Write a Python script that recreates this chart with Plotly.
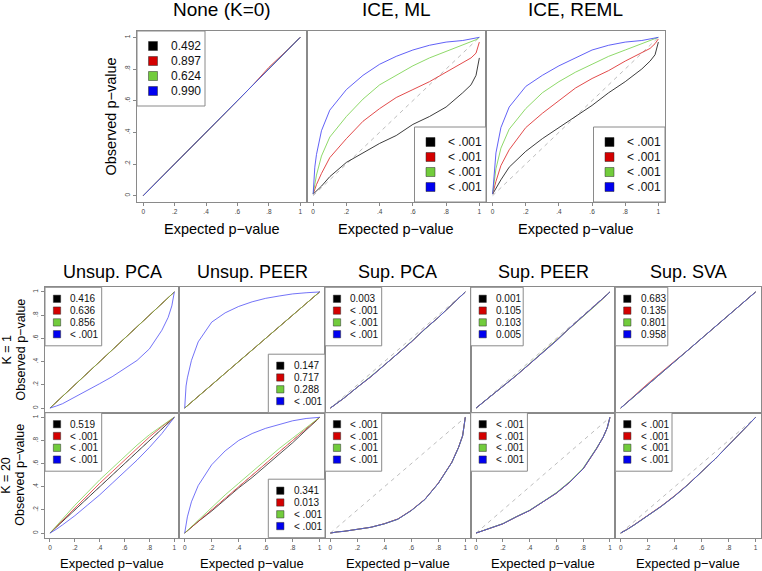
import plotly.graph_objects as go

W, H = 762, 571
FONT = "Liberation Sans, Arial, Helvetica, sans-serif"

# ---------------- data ----------------
X = [0, 0.01, 0.02, 0.05, 0.1, 0.2, 0.3, 0.4, 0.5, 0.6, 0.7, 0.8, 0.9, 0.95, 0.98, 1]
SERIES_NAMES = ["black", "red", "green", "blue"]
LINE_COLORS = ["#1a1a1a", "#dd2a2a", "#7ad24e", "#4444f4"]
FILL_COLORS = ["#000000", "#d40000", "#72cc3c", "#0000f0"]
TICK_VALS = [0, 0.2, 0.4, 0.6, 0.8, 1]
TICK_TEXT = ["0", ".2", ".4", ".6", ".8", "1"]

NONE_K0 = [
    [0, .01, .02, .05, .10, .20, .30, .40, .50, .60, .70, .80, .90, .95, .98, 1],
    [0, .01, .02, .05, .10, .20, .30, .40, .50, .60, .70, .81, .90, .95, .98, 1],
    [0, .01, .02, .05, .10, .20, .30, .40, .50, .60, .70, .80, .90, .95, .98, 1],
    [0, .01, .02, .05, .10, .20, .30, .40, .50, .60, .70, .80, .90, .95, .98, 1],
]
ICE_ML = [
    [.01, .02, .03, .06, .12, .21, .27, .33, .38, .45, .50, .56, .65, .70, .76, .87],
    [.01, .04, .07, .14, .24, .36, .47, .55, .62, .67, .72, .78, .84, .87, .90, .97],
    [.01, .08, .13, .25, .37, .50, .61, .70, .76, .82, .87, .91, .95, .97, .985, 1],
    [.01, .18, .26, .41, .54, .67, .76, .83, .88, .92, .95, .97, .98, .99, .995, 1],
]
ICE_REML = [
    [.01, .03, .05, .10, .18, .28, .36, .43, .50, .57, .65, .72, .80, .85, .89, .97],
    [.01, .05, .09, .19, .29, .43, .52, .60, .68, .74, .79, .85, .90, .93, .96, .99],
    [.01, .10, .17, .30, .42, .55, .65, .72, .78, .83, .88, .92, .96, .98, .99, 1],
    [.01, .17, .27, .43, .56, .69, .76, .82, .87, .92, .95, .97, .98, .99, .995, 1],
]
UNSUP_PCA_K1 = [
    [0, .01, .02, .05, .10, .20, .30, .40, .50, .60, .70, .80, .90, .95, .98, 1],
    [0, .01, .02, .05, .10, .20, .30, .40, .505, .60, .70, .80, .90, .95, .98, 1],
    [0, .01, .02, .05, .10, .20, .30, .40, .50, .60, .70, .80, .90, .95, .98, 1],
    [0, .003, .006, .017, .037, .094, .146, .21, .27, .34, .41, .51, .67, .78, .88, 1],
]
UNSUP_PEER_K1 = [
    [0, .01, .02, .05, .10, .20, .30, .40, .50, .60, .70, .80, .90, .95, .98, 1],
    [0, .01, .02, .05, .10, .20, .30, .395, .50, .60, .70, .80, .90, .95, .98, 1],
    [0, .01, .02, .05, .10, .20, .305, .40, .50, .60, .70, .80, .90, .95, .98, 1],
    [0, .19, .26, .41, .57, .74, .82, .875, .915, .945, .965, .983, .993, .997, .999, 1],
]
SUP_PCA_K1 = [
    [0, .008, .016, .04, .085, .18, .27, .37, .47, .57, .68, .78, .89, .945, .978, 1],
    [0, .008, .016, .04, .085, .18, .27, .37, .47, .57, .68, .78, .89, .945, .978, 1],
    [0, .008, .016, .04, .086, .18, .272, .37, .47, .572, .68, .78, .89, .945, .978, 1],
    [0, .008, .016, .04, .085, .18, .27, .37, .47, .57, .68, .78, .89, .945, .978, 1],
]
SUP_PEER_K1 = [
    [0, .009, .018, .045, .09, .185, .28, .38, .48, .58, .69, .79, .89, .945, .978, 1],
    [0, .009, .018, .045, .09, .187, .28, .38, .482, .58, .69, .79, .89, .945, .978, 1],
    [0, .009, .018, .045, .092, .187, .282, .383, .482, .582, .69, .79, .89, .945, .978, 1],
    [0, .009, .018, .045, .09, .185, .28, .38, .48, .58, .69, .79, .89, .945, .978, 1],
]
SUP_SVA_K1 = [
    [0, .01, .02, .05, .10, .20, .30, .40, .50, .60, .70, .80, .90, .95, .98, 1],
    [0, .01, .02, .052, .105, .21, .31, .405, .50, .60, .70, .80, .90, .95, .98, 1],
    [0, .01, .02, .05, .10, .20, .30, .40, .50, .60, .70, .80, .90, .95, .98, 1],
    [0, .01, .02, .05, .10, .20, .30, .40, .50, .60, .70, .80, .90, .95, .98, 1],
]
UNSUP_PCA_K20 = [
    [0, .01, .02, .05, .10, .20, .30, .40, .50, .60, .70, .80, .90, .95, .98, 1],
    [0, .011, .022, .055, .11, .22, .33, .43, .53, .63, .73, .83, .92, .96, .985, 1],
    [0, .013, .026, .063, .12, .24, .35, .46, .56, .66, .76, .85, .93, .965, .988, 1],
    [0, .006, .012, .032, .07, .15, .24, .33, .43, .53, .63, .74, .86, .93, .97, 1],
]
UNSUP_PEER_K20 = [
    [0, .01, .02, .05, .10, .19, .29, .39, .48, .58, .68, .78, .89, .94, .975, 1],
    [0, .01, .02, .05, .10, .20, .30, .40, .50, .60, .70, .80, .90, .95, .98, 1],
    [0, .011, .022, .055, .11, .22, .33, .43, .53, .63, .73, .82, .91, .955, .983, 1],
    [0, .08, .14, .27, .41, .59, .71, .80, .86, .905, .94, .97, .99, .995, .999, 1],
]
SUP_PCA_K20 = [
    [0, .003, .005, .01, .015, .03, .05, .08, .12, .195, .29, .43, .61, .74, .84, 1],
    [0, .003, .005, .01, .015, .03, .05, .081, .122, .197, .292, .432, .612, .742, .842, 1],
    [0, .003, .005, .01, .015, .03, .05, .08, .12, .195, .29, .43, .61, .74, .84, 1],
    [0, .003, .005, .01, .015, .03, .05, .08, .12, .195, .29, .43, .61, .74, .84, 1],
]
SUP_PEER_K20 = [
    [0, .004, .008, .018, .037, .08, .14, .195, .27, .345, .44, .555, .73, .83, .91, 1],
    [0, .004, .008, .018, .037, .08, .14, .195, .27, .345, .44, .555, .73, .83, .91, 1],
    [0, .004, .008, .018, .038, .082, .142, .198, .273, .35, .446, .562, .735, .83, .91, 1],
    [0, .004, .008, .018, .037, .08, .14, .195, .27, .345, .44, .555, .73, .83, .91, 1],
]
SUP_SVA_K20 = [
    [0, .006, .012, .033, .07, .15, .23, .32, .42, .53, .64, .76, .88, .94, .975, 1],
    [0, .006, .012, .034, .072, .153, .233, .323, .422, .53, .64, .76, .88, .94, .975, 1],
    [0, .006, .012, .033, .07, .15, .23, .32, .42, .53, .64, .76, .88, .94, .975, 1],
    [0, .006, .012, .033, .07, .15, .23, .32, .42, .53, .64, .76, .88, .94, .975, 1],
]

LT = "< .001"
LABELS_NONE_K0 = ["0.492", "0.897", "0.624", "0.990"]
LABELS_ICE_ML = [LT, LT, LT, LT]
LABELS_ICE_REML = [LT, LT, LT, LT]
LABELS_UNSUP_PCA_K1 = ["0.416", "0.636", "0.856", LT]
LABELS_UNSUP_PEER_K1 = ["0.147", "0.717", "0.288", LT]
LABELS_SUP_PCA_K1 = ["0.003", LT, LT, LT]
LABELS_SUP_PEER_K1 = ["0.001", "0.105", "0.103", "0.005"]
LABELS_SUP_SVA_K1 = ["0.683", "0.135", "0.801", "0.958"]
LABELS_UNSUP_PCA_K20 = ["0.519", LT, LT, LT]
LABELS_UNSUP_PEER_K20 = ["0.341", "0.013", LT, LT]
LABELS_SUP_PCA_K20 = [LT, LT, LT, LT]
LABELS_SUP_PEER_K20 = [LT, LT, LT, LT]
LABELS_SUP_SVA_K20 = [LT, LT, LT, LT]

TOP_TITLES = ["None (K=0)", "ICE, ML", "ICE, REML"]
BOTTOM_TITLES = ["Unsup. PCA", "Unsup. PEER", "Sup. PCA", "Sup. PEER", "Sup. SVA"]
ROW_LABELS = ["K = 1", "K = 20"]
XLAB = "Expected p\u2212value"
YLAB = "Observed p\u2212value"

# ---------------- layout geometry (pixels) ----------------
TOP_COLS = [(137, 306.5), (306.5, 486), (486, 665)]
TOP_ROW = (31, 202)
BOT_COLS = [(45, 179.3), (179.3, 325), (325, 470.7), (470.7, 615.3), (615.3, 761)]
BOT_ROWS = [(287.3, 412.7), (412.7, 537.7)]

panels = []
top_data = [(NONE_K0, LABELS_NONE_K0, "tl"), (ICE_ML, LABELS_ICE_ML, "br"),
            (ICE_REML, LABELS_ICE_REML, "br")]
for c, (d, lab, pos) in enumerate(top_data):
    panels.append(dict(data=d, labels=lab, pos=pos, frame=(TOP_COLS[c][0], TOP_COLS[c][1], TOP_ROW[0], TOP_ROW[1]),
                       xt=True, yt=(c == 0), size="big"))
bot_data = [
    [(UNSUP_PCA_K1, LABELS_UNSUP_PCA_K1, "tl"), (UNSUP_PEER_K1, LABELS_UNSUP_PEER_K1, "br"),
     (SUP_PCA_K1, LABELS_SUP_PCA_K1, "tl"), (SUP_PEER_K1, LABELS_SUP_PEER_K1, "tl"),
     (SUP_SVA_K1, LABELS_SUP_SVA_K1, "tl")],
    [(UNSUP_PCA_K20, LABELS_UNSUP_PCA_K20, "tl"), (UNSUP_PEER_K20, LABELS_UNSUP_PEER_K20, "br"),
     (SUP_PCA_K20, LABELS_SUP_PCA_K20, "tl"), (SUP_PEER_K20, LABELS_SUP_PEER_K20, "tl"),
     (SUP_SVA_K20, LABELS_SUP_SVA_K20, "tl")],
]
for r in range(2):
    for c in range(5):
        d, lab, pos = bot_data[r][c]
        panels.append(dict(data=d, labels=lab, pos=pos,
                           frame=(BOT_COLS[c][0], BOT_COLS[c][1], BOT_ROWS[r][0], BOT_ROWS[r][1]),
                           xt=(r == 1), yt=(c == 0), size="small"))


def px(x):
    return x / W


def py(y):
    return 1 - y / H


fig = go.Figure()
layout = {}
shapes = []
annotations = []

FRAME_COLOR = "#8a8a8a"

for i, p in enumerate(panels):
    n = i + 1
    sfx = "" if n == 1 else str(n)
    xa, ya = "x" + sfx, "y" + sfx
    x0, x1, y0, y1 = p["frame"]
    fig.add_trace(go.Scatter(x=[X[0], X[-1]], y=[X[0], X[-1]], mode="lines",
                             line=dict(color="#bdbdbd", width=1, dash="4px,4px"),
                             xaxis=xa, yaxis=ya, hoverinfo="skip", showlegend=False))
    for s, col, nm in zip(p["data"], LINE_COLORS, SERIES_NAMES):
        fig.add_trace(go.Scatter(x=X, y=s, mode="lines", name=nm,
                                 line=dict(color=col, width=0.85 if p["size"] == "big" else 0.75),
                                 xaxis=xa, yaxis=ya, showlegend=False))
    common = dict(range=[-0.04, 1.04], showgrid=False, zeroline=False, showline=True, mirror=True,
                  linecolor=FRAME_COLOR, linewidth=1, tickvals=TICK_VALS, ticktext=TICK_TEXT,
                  tickfont=dict(size=6.5, color="#444", family=FONT), tickcolor="#888",
                  ticklen=3, tickwidth=1, fixedrange=True)
    xax = dict(common, domain=[px(x0), px(x1)], anchor=ya,
               ticks="outside" if p["xt"] else "", showticklabels=p["xt"])
    yax = dict(common, domain=[py(y1), py(y0)], anchor=xa, tickangle=-90,
               ticks="outside" if p["yt"] else "", showticklabels=p["yt"])
    layout["xaxis" + sfx] = xax
    layout["yaxis" + sfx] = yax

    # legend
    has_lt = any(l.startswith("<") for l in p["labels"])
    if p["size"] == "big":
        bw, bh, r0, dr, sq, sqx, tx, fs = (71.5 if has_lt else 68), 75, 15, 15, 9, 16, 31.5, 12
    else:
        bw, bh, r0, dr, sq, sqx, tx, fs = (56.7 if has_lt else 52.5), 58.5, 11.5, 11.8, 7.3, 12, 23.3, 10
    if p["pos"] == "tl":
        bx0, by0 = x0, y0
    else:
        bx0, by0 = x1 - bw, y1 - bh
    shapes.append(dict(type="rect", xref="paper", yref="paper", layer="above",
                       x0=px(bx0), x1=px(bx0 + bw), y0=py(by0 + bh), y1=py(by0),
                       line=dict(color=FRAME_COLOR, width=1), fillcolor="white"))
    for k, (lab, fc) in enumerate(zip(p["labels"], FILL_COLORS)):
        cy = by0 + r0 + dr * k
        cx = bx0 + sqx
        shapes.append(dict(type="rect", xref="paper", yref="paper", layer="above",
                           x0=px(cx - sq / 2), x1=px(cx + sq / 2), y0=py(cy + sq / 2), y1=py(cy - sq / 2),
                           line=dict(color="rgba(40,40,40,0.7)", width=0.7), fillcolor=fc))
        annotations.append(dict(x=px(bx0 + tx), y=py(cy), xref="paper", yref="paper", text=lab,
                                showarrow=False, xanchor="left", yanchor="middle",
                                font=dict(size=fs, color="#111", family=FONT)))

# titles and axis labels
for c, t in enumerate(TOP_TITLES):
    cx = (TOP_COLS[c][0] + TOP_COLS[c][1]) / 2
    annotations.append(dict(x=px(cx), y=py(9.5), xref="paper", yref="paper", text=t, showarrow=False,
                            xanchor="center", yanchor="middle", font=dict(size=19, color="#000", family=FONT)))
    annotations.append(dict(x=px(cx), y=py(229), xref="paper", yref="paper", text=XLAB, showarrow=False,
                            xanchor="center", yanchor="middle", font=dict(size=14.5, color="#000", family=FONT)))
annotations.append(dict(x=px(111), y=py((TOP_ROW[0] + TOP_ROW[1]) / 2), xref="paper", yref="paper", text=YLAB,
                        showarrow=False, textangle=-90, xanchor="center", yanchor="middle",
                        font=dict(size=14.5, color="#000", family=FONT)))
for c, t in enumerate(BOTTOM_TITLES):
    cx = (BOT_COLS[c][0] + BOT_COLS[c][1]) / 2
    annotations.append(dict(x=px(cx), y=py(272), xref="paper", yref="paper", text=t, showarrow=False,
                            xanchor="center", yanchor="middle", font=dict(size=18, color="#000", family=FONT)))
    annotations.append(dict(x=px(cx), y=py(563), xref="paper", yref="paper", text=XLAB, showarrow=False,
                            xanchor="center", yanchor="middle", font=dict(size=13, color="#000", family=FONT)))
for r, t in enumerate(ROW_LABELS):
    cy = (BOT_ROWS[r][0] + BOT_ROWS[r][1]) / 2
    annotations.append(dict(x=px(6.5), y=py(cy), xref="paper", yref="paper", text=t, showarrow=False,
                            textangle=-90, xanchor="center", yanchor="middle",
                            font=dict(size=12.5, color="#000", family=FONT)))
    annotations.append(dict(x=px(20.5), y=py(cy), xref="paper", yref="paper", text=YLAB, showarrow=False,
                            textangle=-90, xanchor="center", yanchor="middle",
                            font=dict(size=12.5, color="#000", family=FONT)))

fig.update_layout(
    width=W, height=H, margin=dict(l=0, r=0, t=0, b=0),
    paper_bgcolor="white", plot_bgcolor="white",
    showlegend=False, shapes=shapes, annotations=annotations,
    font=dict(family=FONT), **layout
)

fig.write_html("out.html", config={"displayModeBar": False},
               post_script="document.body.style.margin='0px';document.body.style.overflow='hidden';")
